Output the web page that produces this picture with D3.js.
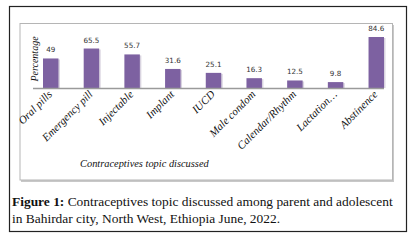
<!DOCTYPE html>
<html>
<head>
<meta charset="utf-8">
<script src="https://cdn.jsdelivr.net/npm/d3@7"></script>
<style>
  body { margin: 0; background: #fff; }
  svg { display: block; }
</style>
</head>
<body>
<div id="chart"></div>
<script>
const topics = ["Oral pills", "Emergency pill", "Injectable", "Implant", "IUCD",
  "Male condom", "Calendar/Rhythm", "Lactation\u2026", "Abstinence"];
const percents = [49, 65.5, 55.7, 31.6, 25.1, 16.3, 12.5, 9.8, 84.6];
const captionLines = [
  ["Figure 1:", " Contraceptives topic discussed among parent and adolescent"],
  ["", "in Bahirdar city, North West, Ethiopia June, 2022."]
];

let width = 414, height = 242;
let baseY = 88;
const serif = "'Liberation Serif', 'Times New Roman', serif";

const svg = d3.select("#chart").append("svg")
  .attr("width", width)
  .attr("height", height);

// outer frame
svg.append("rect")
  .attr("x", 9.5).attr("y", 6.5)
  .attr("width", 397).attr("height", 225)
  .attr("fill", "none").attr("stroke", "#222").attr("stroke-width", 1.2);

// chart box with shadow
svg.append("rect")
  .attr("x", 21).attr("y", 25)
  .attr("width", 373).attr("height", 157)
  .attr("fill", "#c8c8c8");
svg.append("rect")
  .attr("x", 20).attr("y", 23.5)
  .attr("width", 372.5).attr("height", 156.5)
  .attr("fill", "#fff").attr("stroke", "#b5b5b5").attr("stroke-width", 1);

const x = d3.scaleBand()
  .domain(topics)
  .range([43, 384])
  .paddingInner(0.62)
  .paddingOuter(0);

const y = d3.scaleLinear()
  .domain([0, 84.6])
  .range([baseY, 37]);

// bar shadows
svg.append("g").selectAll("rect")
  .data(topics)
  .join("rect")
  .attr("x", d => x(d) + 1.5)
  .attr("y", (d, i) => y(percents[i]) + 1)
  .attr("width", x.bandwidth())
  .attr("height", (d, i) => baseY - y(percents[i]) - 1)
  .attr("fill", "#d9d4e0");

svg.append("g").selectAll("rect")
  .data(topics)
  .join("rect")
  .attr("x", d => x(d))
  .attr("y", (d, i) => y(percents[i]))
  .attr("width", x.bandwidth())
  .attr("height", (d, i) => baseY - y(percents[i]))
  .attr("fill", "#7d61a1");

// baseline
svg.append("line")
  .attr("x1", 33).attr("x2", 384)
  .attr("y1", baseY + 0.5).attr("y2", baseY + 0.5)
  .attr("stroke", "#9a9a9a").attr("stroke-width", 1.6);

// value labels
svg.append("g").selectAll("text")
  .data(topics)
  .join("text")
  .attr("x", d => x(d) + x.bandwidth() / 2)
  .attr("y", (d, i) => y(percents[i]) - 6)
  .attr("text-anchor", "middle")
  .attr("font-family", "'DejaVu Sans', sans-serif")
  .attr("font-size", 7.2)
  .attr("fill", "#333")
  .text((d, i) => percents[i]);

// category labels
svg.append("g").selectAll("text")
  .data(topics)
  .join("text")
  .attr("transform", d => `translate(${x(d) + x.bandwidth() / 2 + 2},${baseY + 7}) rotate(-45)`)
  .attr("text-anchor", "end")
  .attr("font-family", serif)
  .attr("font-style", "italic")
  .attr("font-size", 11)
  .attr("fill", "#111")
  .text(d => d);

// y axis title
svg.append("text")
  .attr("transform", "translate(38,59) rotate(-90)")
  .attr("text-anchor", "middle")
  .attr("font-family", serif)
  .attr("font-style", "italic")
  .attr("font-size", 10)
  .attr("fill", "#111")
  .text("Percentage");

// x axis title
svg.append("text")
  .attr("x", 80).attr("y", 167)
  .attr("font-family", serif)
  .attr("font-style", "italic")
  .attr("font-size", 10.4)
  .attr("fill", "#111")
  .text("Contraceptives topic discussed");

// caption
const cap = svg.append("g")
  .attr("font-family", serif)
  .attr("font-size", 12)
  .attr("fill", "#111");
captionLines.forEach((ln, i) => {
  const t = cap.append("text")
    .attr("x", 12)
    .attr("y", 206 + i * 16.5);
  if (ln[0]) t.append("tspan").attr("font-weight", "bold").text(ln[0]);
  t.append("tspan").text(ln[1]);
});
// fit the first caption line to the frame width
const first = cap.select("text").node();
const w = first.getComputedTextLength();
cap.attr("font-size", 12 * 381 / w);
</script>
</body>
</html>
